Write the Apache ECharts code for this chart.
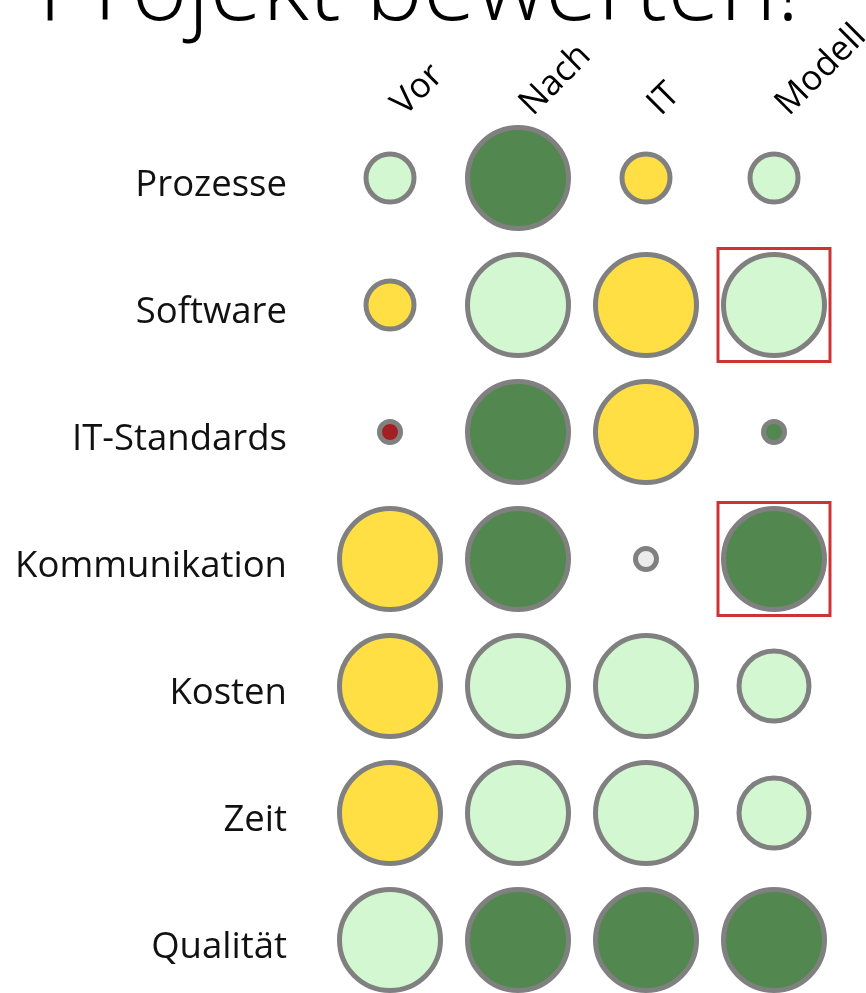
<!DOCTYPE html>
<html><head><meta charset="utf-8">
<script src="https://cdn.jsdelivr.net/npm/echarts@6/dist/echarts.min.js"></script>
<style>html,body{margin:0;padding:0;background:#fff}#c{width:866px;height:993px}</style>
</head><body><div id="c"></div>
<script>
const titleText = 'Projekt bewerten!';
const columns = ['Vor', 'Nach', 'IT', 'Modell'];
const rows = ['Prozesse', 'Software', 'IT-Standards', 'Kommunikation', 'Kosten', 'Zeit', 'Qualität'];
// rating score per row (Vor, Nach, IT, Modell): 0 = minimal, 1, 2, 4 = maximal
const scores = [
  [1, 4, 1, 1],
  [1, 4, 4, 4],
  [0, 4, 4, 0],
  [4, 4, 0, 4],
  [4, 4, 4, 2],
  [4, 4, 4, 2],
  [4, 4, 4, 4]
];
// status per cell: L = hellgrün, D = dunkelgrün, Y = gelb, R = rot, G = grau
const status = [
  ['L', 'D', 'Y', 'L'],
  ['Y', 'L', 'Y', 'L'],
  ['R', 'D', 'Y', 'D'],
  ['Y', 'D', 'G', 'D'],
  ['Y', 'L', 'L', 'L'],
  ['Y', 'L', 'L', 'L'],
  ['L', 'D', 'D', 'D']
];
const highlights = [['Modell', 'Software'], ['Modell', 'Kommunikation']];

const palette = { L: '#d2f7d1', D: '#52884f', Y: '#ffdf44', R: '#a41f22', G: '#ececec' };
const font = '"Open Sans", "Noto Sans", sans-serif';

const pts = [];
rows.forEach((r, i) => columns.forEach((c, j) => {
  pts.push({ value: [c, r, scores[i][j]], itemStyle: { color: palette[status[i][j]] } });
}));

const chart = echarts.init(document.getElementById('c'));
chart.setOption({
  animation: false,
  graphic: [{
    type: 'text', x: 38, y: 41, z: 0,
    style: { text: titleText, font: '300 96px ' + font, fill: '#000', textVerticalAlign: 'bottom' }
  }],
  grid: { left: 326, width: 512, top: 114.5, height: 889, outerBoundsMode: 'none', containLabel: false },
  xAxis: {
    type: 'category', data: columns, position: 'top',
    axisLine: { show: false }, axisTick: { show: false }, splitLine: { show: false },
    axisLabel: {
      rotate: -45, margin: -3, formatter: v => '{c|' + v + '}',
      rich: { c: { fontSize: 35, fontFamily: font, color: '#000', padding: [0, 0, 0, 11] } }
    }
  },
  yAxis: {
    type: 'category', data: rows, inverse: true,
    axisLine: { show: false }, axisTick: { show: false }, splitLine: { show: false },
    axisLabel: {
      margin: 39, formatter: v => '{r|' + v + '}',
      rich: { r: { fontSize: 36.5, fontFamily: font, color: '#111', padding: [16, 0, 0, 0] } }
    }
  },
  series: [{
    type: 'scatter', data: pts,
    symbolSize: v => v[2] === 0 ? 21 : 53 * Math.sqrt(v[2]) - 5,
    itemStyle: { borderColor: '#808080', borderWidth: 5, opacity: 1 },
    emphasis: { disabled: true }
  }, {
    type: 'scatter', data: highlights, symbol: 'rect', symbolSize: [112, 113],
    itemStyle: { color: 'rgba(0,0,0,0)', borderColor: '#c00000', borderWidth: 3 },
    z: 1, emphasis: { disabled: true }
  }]
});
</script></body></html>
